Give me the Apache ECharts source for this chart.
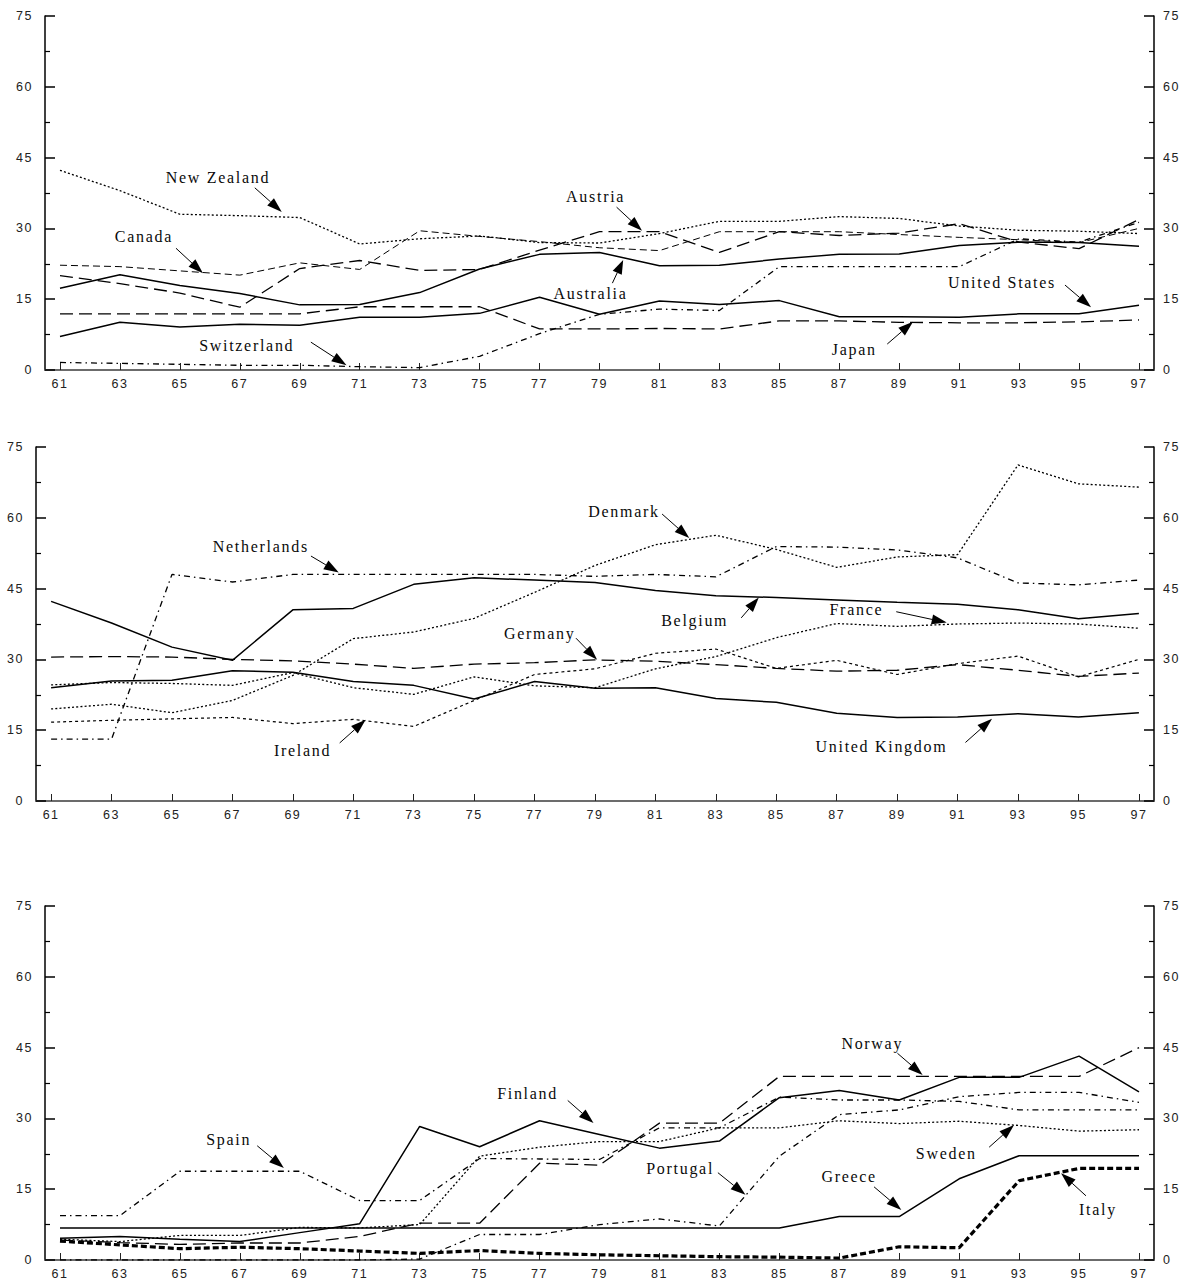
<!DOCTYPE html>
<html><head><meta charset="utf-8">
<script src="https://cdn.jsdelivr.net/npm/echarts@6/dist/echarts.min.js"></script>
<style>
html,body{margin:0;padding:0;background:#fff}
#c{width:1192px;height:1282px}
#c text{letter-spacing:1.5px}
#c text[fill="#0a0a0a"]{letter-spacing:1.7px}
</style></head><body><div id="c"></div>
<script>
// ---- data ----
const years = [61,63,65,67,69,71,73,75,77,79,81,83,85,87,89,91,93,95,97];
const tickYears = years;
const yTicks = [0,15,30,45,60,75];

// panel 1
const newZealand   = [42.3,38.0,33.0,32.7,32.3,26.7,27.8,28.4,27.0,26.9,28.9,31.5,31.5,32.5,32.1,30.5,29.6,29.4,28.9];
const canada       = [22.2,21.9,21.0,20.1,22.7,21.3,29.5,28.3,27.2,25.9,25.3,29.3,29.3,29.3,28.7,28.1,27.6,27.0,30.0];
const austria      = [20.0,18.3,16.3,13.3,21.5,23.2,21.1,21.3,25.4,29.3,29.3,24.9,29.3,28.5,29.0,31.0,27.1,25.7,31.9];
const australia    = [17.3,20.2,17.9,16.2,13.8,13.9,16.4,21.4,24.5,24.9,22.1,22.2,23.5,24.5,24.6,26.4,27.1,27.0,26.2];
const unitedStates = [7.1,10.1,9.1,9.7,9.5,11.2,11.2,12.0,15.4,11.8,14.6,13.9,14.7,11.3,11.3,11.2,11.9,11.9,13.7];
const japan        = [11.9,11.9,11.9,11.9,11.9,13.4,13.4,13.4,8.7,8.7,8.8,8.7,10.4,10.4,10.1,10.0,10.0,10.2,10.6];
const switzerland  = [1.6,1.4,1.2,1.0,1.0,0.7,0.5,2.9,7.7,11.8,12.9,12.6,21.9,21.9,21.9,21.9,27.8,27.1,31.3];

// panel 2
const netherlands  = [13.1,13.1,48.0,46.4,48.0,48.0,48.0,48.0,48.0,47.6,48.0,47.5,53.9,53.8,53.2,51.5,46.2,45.8,46.8];
const denmark      = [19.5,20.5,18.7,21.3,26.6,34.4,35.8,38.7,44.2,49.9,54.3,56.3,53.3,49.5,51.7,52.2,71.2,67.2,66.5];
const belgium      = [42.3,37.7,32.6,29.8,40.5,40.8,45.9,47.3,46.8,46.3,44.6,43.5,43.1,42.6,42.1,41.7,40.5,38.6,39.7];
const germany      = [30.5,30.6,30.5,30.0,29.7,29.0,28.1,29.0,29.3,29.9,29.6,28.9,28.1,27.5,27.7,28.9,27.7,26.4,27.1];
const france       = [24.6,25.1,24.9,24.5,27.2,24.0,22.6,26.3,24.4,24.0,28.0,30.6,34.6,37.6,37.0,37.5,37.7,37.5,36.6];
const ireland      = [16.7,17.1,17.4,17.7,16.4,17.3,15.8,21.3,26.8,28.0,31.3,32.2,28.1,29.8,26.8,29.1,30.7,26.3,30.0];
const unitedKingdom= [24.0,25.4,25.6,27.6,27.3,25.3,24.5,21.6,25.3,23.9,24.0,21.7,20.9,18.6,17.7,17.8,18.5,17.8,18.7];

// panel 3
const finland      = [4.6,5.0,4.4,3.9,5.8,7.7,28.3,24.0,29.5,26.6,23.7,25.2,34.4,35.9,33.9,38.7,38.7,43.2,35.6];
const norway       = [4.2,3.7,3.3,3.6,3.6,5.0,7.8,7.8,20.5,20.1,29.0,29.0,38.9,38.9,38.9,38.9,38.9,38.9,45.0];
const spain        = [9.4,9.4,18.8,18.8,18.8,12.6,12.6,21.5,21.4,21.3,28.0,28.0,34.5,33.9,33.9,33.6,31.8,31.8,31.8];
const sweden       = [4.4,3.9,5.2,5.2,6.9,6.8,7.5,22.0,23.9,25.1,25.1,28.0,28.0,29.5,28.9,29.4,28.5,27.3,27.6];
const portugal     = [0.0,0.0,0.0,0.0,0.0,0.0,0.2,5.4,5.4,7.5,8.7,7.2,22.0,30.8,31.8,34.6,35.5,35.5,33.4];
const greece       = [6.8,6.8,6.8,6.8,6.8,6.8,6.8,6.8,6.8,6.8,6.8,6.8,6.8,9.2,9.2,17.2,22.1,22.1,22.1];
const italy        = [4.0,3.2,2.4,2.7,2.4,1.9,1.4,2.0,1.4,1.1,0.9,0.7,0.6,0.4,2.8,2.6,16.8,19.4,19.4];

// ---- styles ----
const ST = {
  solid:   {type:'solid', width:1.5},
  dot:     {type:[2,2.2], width:1.3},
  dash:    {type:[7,4], width:1},
  longdash:{type:[13,6], width:1.3},
  dashdot: {type:[6,4,1.5,4], width:1.3},
  shortdash:{type:[3,3], width:1.2},
  thick:   {type:[6,3], width:3.2}
};

const panels = [
  {grid:{left:45,top:16,width:1109,height:354}, series:[
    ['New Zealand',newZealand,'dot'],['Canada',canada,'dash'],['Austria',austria,'longdash'],
    ['Australia',australia,'solid'],['United States',unitedStates,'solid'],['Japan',japan,'longdash'],
    ['Switzerland',switzerland,'dashdot']]},
  {grid:{left:36,top:447,width:1118,height:354}, series:[
    ['Netherlands',netherlands,'dashdot'],['Denmark',denmark,'dot'],['Belgium',belgium,'solid'],
    ['Germany',germany,'longdash'],['France',france,'dot'],['Ireland',ireland,'shortdash'],
    ['United Kingdom',unitedKingdom,'solid']]},
  {grid:{left:45,top:906,width:1109,height:354}, series:[
    ['Finland',finland,'solid'],['Norway',norway,'longdash'],['Spain',spain,'dashdot'],
    ['Sweden',sweden,'dot'],['Portugal',portugal,'dashdot'],['Greece',greece,'solid'],
    ['Italy',italy,'thick']]}
];

// annotations: [panel, text, textX, textY, arrowFromX, arrowFromY, tipX, tipY] in data units
const notes = [
  [0,'New Zealand',66.27,40.7,67.5,38.6,68.4,33.5],
  [0,'Canada',63.8,28.2,64.87,25.8,65.77,20.5],
  [0,'Switzerland',67.23,5.1,69.37,5.9,70.56,1.0],
  [0,'Austria',78.87,36.7,79.57,34.5,80.42,29.5],
  [0,'Australia',78.7,16.2,79.43,18.4,79.79,23.3],
  [0,'United States',92.43,18.5,94.53,18.0,95.4,13.3],
  [0,'Japan',87.5,4.4,88.6,5.5,89.46,10.2],
  [1,'Netherlands',67.94,54.0,69.6,51.9,70.52,48.4],
  [1,'Ireland',69.32,10.8,70.55,12.3,71.41,17.2],
  [1,'Germany',77.17,35.4,78.37,34.5,79.07,29.9],
  [1,'Denmark',79.96,61.3,81.22,60.8,82.12,55.7],
  [1,'Belgium',82.3,38.2,83.84,38.8,84.42,43.1],
  [1,'France',87.65,40.5,88.97,40.1,90.64,37.8],
  [1,'United Kingdom',88.48,11.5,91.26,12.4,92.14,17.4],
  [2,'Spain',66.63,25.6,67.58,24.2,68.47,19.5],
  [2,'Finland',76.6,35.2,77.94,33.8,78.8,29.0],
  [2,'Norway',88.1,45.8,88.94,43.8,89.78,39.2],
  [2,'Portugal',81.69,19.4,82.95,18.5,83.87,13.8],
  [2,'Greece',87.33,17.6,88.16,15.5,89.07,10.6],
  [2,'Sweden',90.57,22.5,92.0,23.9,92.83,28.6],
  [2,'Italy',95.63,10.7,95.23,13.6,94.4,18.4]
];

const tickFont = {fontSize:12.5,color:'#222',fontFamily:'Liberation Sans'};
const option = {animation:false, backgroundColor:'#fff', grid:[], xAxis:[], yAxis:[], series:[]};
panels.forEach((p,i)=>{
  option.grid.push(p.grid);
  option.xAxis.push({gridIndex:i,type:'value',min:60.5,max:97.5,position:'bottom',
    axisLine:{show:true,lineStyle:{color:'#555',width:1.5}},
    axisTick:{show:true,inside:true,length:7,customValues:tickYears,lineStyle:{color:'#222',width:1}},
    axisLabel:Object.assign({customValues:tickYears,margin:7,formatter:v=>String(v)},tickFont),
    splitLine:{show:false}});
  option.xAxis.push({gridIndex:i,type:'value',min:60.5,max:97.5,position:'top',
    axisLine:{show:true,lineStyle:{color:'#666',width:1.5}},
    axisTick:{show:false},axisLabel:{show:false},splitLine:{show:false}});
  const yBase = {gridIndex:i,type:'value',min:0,max:75,interval:15,
    axisLine:{show:true,lineStyle:{color:'#000',width:1.5}},
    axisTick:{show:true,inside:true,length:10,lineStyle:{color:'#000',width:1.5}},
    minorTick:{show:true,splitNumber:2,length:5,lineStyle:{color:'#000',width:1.2}},
    splitLine:{show:false}};
  option.yAxis.push(Object.assign({},yBase,{position:'left',axisLabel:Object.assign({margin:12},tickFont)}));
  option.yAxis.push(Object.assign({},yBase,{position:'right',axisLabel:Object.assign({margin:9},tickFont)}));
  p.series.forEach(([name,vals,st])=>{
    option.series.push({name,type:'line',xAxisIndex:2*i,yAxisIndex:2*i,symbol:'none',silent:true,
      data:years.map((y,k)=>[y,vals[k]]),
      lineStyle:Object.assign({color:'#000'},ST[st])});
  });
});

const chart = echarts.init(document.getElementById('c'),null,{renderer:'svg'});
chart.setOption(option);

const els = [];
notes.forEach(([pi,text,tx,ty,fx,fy,px,py])=>{
  const f = {xAxisIndex:2*pi,yAxisIndex:2*pi};
  const T = chart.convertToPixel(f,[tx,ty]);
  const A = chart.convertToPixel(f,[fx,fy]);
  const B = chart.convertToPixel(f,[px,py]);
  els.push({type:'text',x:T[0],y:T[1],z:100,style:{text,fill:'#0a0a0a',font:'16px "Liberation Serif"',align:'center',verticalAlign:'middle'}});
  const dx=B[0]-A[0], dy=B[1]-A[1], L=Math.hypot(dx,dy), ux=dx/L, uy=dy/L;
  const hl=Math.min(15,L*0.55), hw=5;
  const bx=B[0]-ux*hl, by=B[1]-uy*hl;
  els.push({type:'line',z:100,shape:{x1:A[0],y1:A[1],x2:bx,y2:by},style:{stroke:'#000',lineWidth:1}});
  els.push({type:'polygon',z:100,shape:{points:[[B[0],B[1]],[bx-uy*hw,by+ux*hw],[bx+uy*hw,by-ux*hw]]},style:{fill:'#000'}});
});
chart.setOption({graphic:{elements:els}});
</script></body></html>
